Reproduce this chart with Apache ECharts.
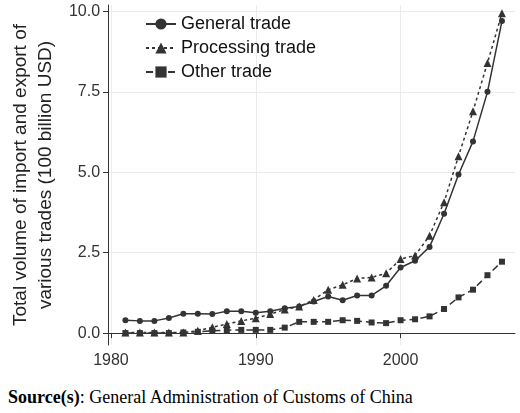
<!DOCTYPE html>
<html><head><meta charset="utf-8">
<script src="https://cdn.jsdelivr.net/npm/echarts@6/dist/echarts.min.js"></script>
<style>body{margin:0;background:#fff}#c{width:520px;height:380px}#s{position:absolute;left:8px;top:387px;font-family:"Liberation Serif",serif;font-size:18px;color:#000}</style>
</head><body><div id="c"></div><div id="s"><b>Source(s)</b>: General Administration of Customs of China</div>
<script>
const years=[1981,1982,1983,1984,1985,1986,1987,1988,1989,1990,1991,1992,1993,1994,1995,1996,1997,1998,1999,2000,2001,2002,2003,2004,2005,2006,2007];
const general=[0.40,0.38,0.38,0.47,0.60,0.60,0.59,0.68,0.68,0.63,0.68,0.77,0.83,0.98,1.14,1.02,1.17,1.17,1.47,2.04,2.25,2.68,3.71,4.93,5.96,7.5,9.7];
const processing=[0.02,0.02,0.02,0.02,0.02,0.07,0.18,0.28,0.38,0.46,0.59,0.73,0.83,1.03,1.35,1.5,1.7,1.73,1.86,2.3,2.41,3.03,4.07,5.5,6.9,8.4,9.94];
const other=[0,0,0,0,0.02,0.04,0.07,0.09,0.1,0.1,0.1,0.17,0.35,0.35,0.35,0.4,0.38,0.33,0.31,0.4,0.43,0.52,0.75,1.11,1.35,1.8,2.22];
const xTicks=[1980,1990,2000], yTicks=[0,2.5,5,7.5,10];
const pair=a=>years.map((y,i)=>[y,a[i]]);
const c=echarts.init(document.getElementById('c'));
const txt={fontFamily:'Liberation Sans',fontSize:16,color:'#333'};
const ls={color:'#333',width:1.5};
c.setOption({animation:false,
grid:{left:97,right:5,top:5,bottom:35},
legend:{left:140,top:10,orient:'vertical',itemGap:6,itemWidth:30,textStyle:{fontFamily:'Liberation Sans',fontSize:18,color:'#111'},
 data:['General trade','Processing trade','Other trade']},
xAxis:{type:'value',min:1979.8,max:2007.9,
 axisLine:{lineStyle:{color:'#333'}},axisTick:{customValues:xTicks,lineStyle:{color:'#333'}},
 axisLabel:{customValues:xTicks,formatter:v=>String(v),...txt},splitLine:{show:true,lineStyle:{color:'#ebebeb'}}},
yAxis:{type:'value',min:-0.37,max:10.2,name:'Total volume of import and export of\nvarious trades (100 billion USD)',
 nameLocation:'middle',nameGap:44,nameTextStyle:{fontFamily:'Liberation Sans',fontSize:19,color:'#222',lineHeight:25},
 axisLine:{show:true,lineStyle:{color:'#333'}},axisTick:{show:true,customValues:yTicks,lineStyle:{color:'#333'}},
 axisLabel:{customValues:yTicks,formatter:v=>v.toFixed(1),...txt},splitLine:{show:true,lineStyle:{color:'#ebebeb'}}},
series:[
 {name:'General trade',type:'line',data:pair(general),symbol:'circle',symbolSize:6,itemStyle:{color:'#333'},lineStyle:{...ls,type:'solid'}},
 {name:'Processing trade',type:'line',data:pair(processing),symbol:'triangle',symbolSize:8,itemStyle:{color:'#333'},lineStyle:{...ls,type:[3,3]}},
 {name:'Other trade',type:'line',data:pair(other),symbol:'rect',symbolSize:6,itemStyle:{color:'#333'},lineStyle:{...ls,type:[7,4]}}
]});
</script></body></html>
